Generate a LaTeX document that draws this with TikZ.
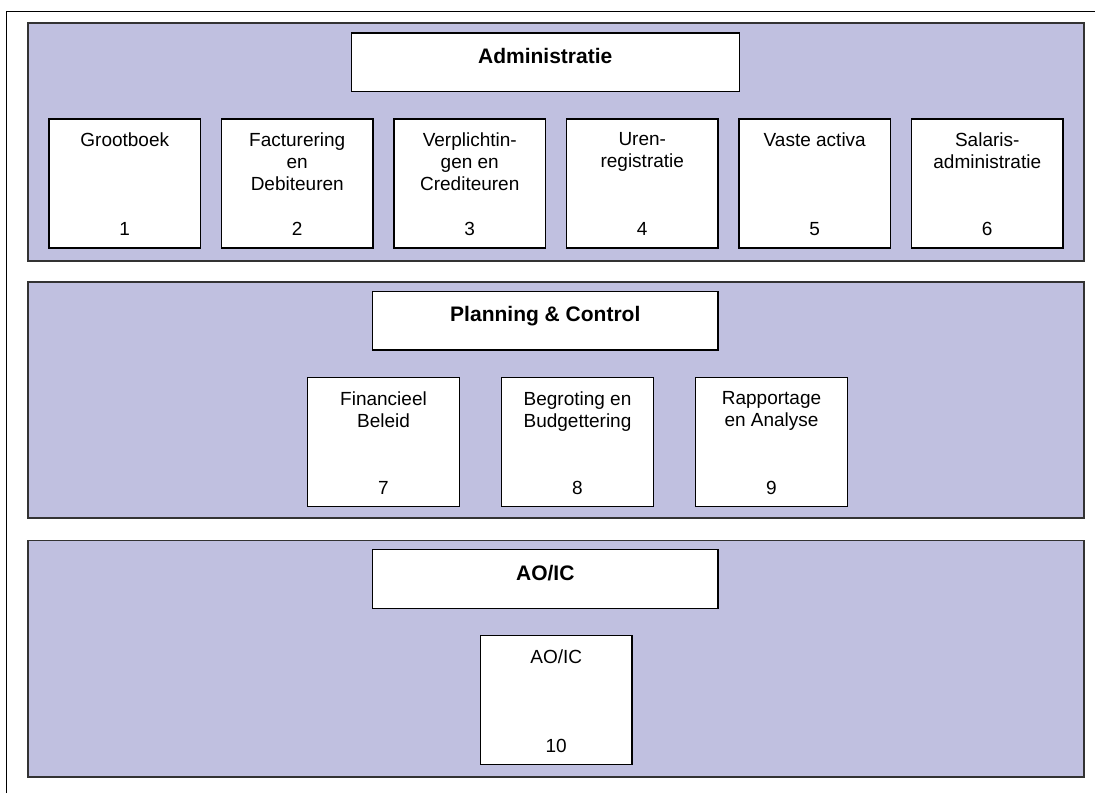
\documentclass[tikz,border=0pt]{standalone}
\usepackage{fontspec}
\setmainfont{Liberation Sans}
\usetikzlibrary{positioning}
\definecolor{panelblue}{RGB}{192,192,224}

\begin{document}
\begin{tikzpicture}[
    x=1pt, y=-1pt,
    node distance=19.8pt,
    panel/.style={
      rectangle,
      draw=black!80,
      fill=panelblue,
      line width=1.6pt,
      minimum width=1056pt,
      inner sep=0pt
    },
    heading/.style={
      rectangle,
      draw=black,
      fill=white,
      line width=1.2pt,
      minimum height=58.5pt,
      inner sep=0pt
    },
    headtext/.style={
      anchor=north,
      yshift=-15.5pt,
      inner sep=0pt,
      font=\fontsize{21}{24}\selectfont\bfseries
    },
    module/.style={
      rectangle,
      draw=black,
      fill=white,
      line width=1.2pt,
      minimum width=151.5pt,
      minimum height=129pt,
      inner sep=0pt
    },
    modtitle/.style={
      anchor=north,
      yshift=-14.3pt,
      inner sep=0pt,
      align=center,
      font=\fontsize{19}{22}\selectfont
    },
    modnum/.style={
      anchor=base,
      yshift=13pt,
      inner sep=0pt,
      font=\fontsize{19}{22}\selectfont
    }
  ]

    \useasboundingbox (0,0) rectangle (1095,793);

    % Outer frame (right and bottom edge lie outside the page)
    \draw[line width=1pt] (6,793) -- (6,11) -- (1095,11);

    % Panels
    \node[panel, minimum height=238pt] (admpanel) at (556,142) {};
    \node[panel, minimum height=236pt] (pcpanel) at (556,400) {};
    \node[panel, minimum height=236.5pt] (aoicpanel) at (556,658.75) {};

    % Top panel: Administratie
    \node[heading, minimum width=388pt, label={[headtext]north:Administratie}] (administratie) at (545.2,62.2) {};

    \node[module, label={[modtitle]north:Grootboek}, label={[modnum]south:1}] (grootboek) at (124.75,183.5) {};
    \node[module, right=of grootboek, label={[modtitle]north:{Facturering\\en\\Debiteuren}}, label={[modnum]south:2}] (facturering) {};
    \node[module, right=of facturering, label={[modtitle]north:{Verplichtin-\\gen en\\Crediteuren}}, label={[modnum]south:3}] (verplichtingen) {};
    \node[module, right=of verplichtingen, label={[modtitle]north:{Uren-\\registratie}}, label={[modnum]south:4}] (urenreg) {};
    \node[module, right=of urenreg, label={[modtitle]north:Vaste activa}, label={[modnum]south:5}] (vasteactiva) {};
    \node[module, right=of vasteactiva, label={[modtitle]north:{Salaris-\\administratie}}, label={[modnum]south:6}] (salaris) {};

    % Middle panel: Planning & Control
    \node[heading, minimum width=345.3pt, label={[headtext]north:Planning \& Control}] (planning) at (545.3,320.8) {};

    \node[module, label={[modtitle]north:{Financieel\\Beleid}}, label={[modnum]south:7}] (financieel) at (383.5,442) {};
    \node[module, right=41.3pt of financieel, label={[modtitle]north:{Begroting en\\Budgettering}}, label={[modnum]south:8}] (begroting) {};
    \node[module, right=41.3pt of begroting, label={[modtitle]north:{Rapportage\\en Analyse}}, label={[modnum]south:9}] (rapportage) {};

    % Bottom panel: AO/IC
    \node[heading, minimum width=345.3pt, label={[headtext]north:AO/IC}] (aoic) at (545.3,579) {};

    \node[module, label={[modtitle]north:AO/IC}, label={[modnum]south:10}] (aoicmod) at (556.2,700.2) {};

  \end{tikzpicture}
\end{document}
